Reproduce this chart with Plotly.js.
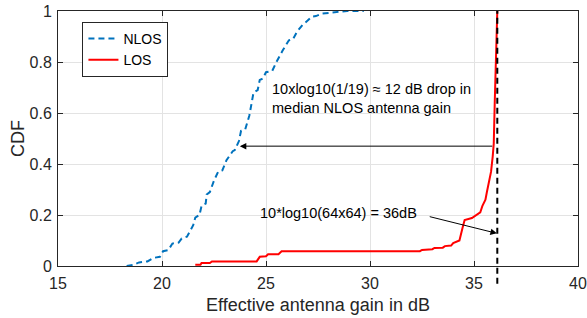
<!DOCTYPE html>
<html>
<head>
<meta charset="utf-8">
<script src="https://cdn.plot.ly/plotly-3.0.1.min.js"></script>
<style>html,body{margin:0;padding:0;background:#fff}#chart{width:587px;height:318px}</style>
</head>
<body>
<div id="chart"></div>
<script>
// NLOS empirical CDF of effective antenna gain (dB)
const nlosGain = [18.3, 18.6, 18.9, 19.3, 19.6, 19.9, 20.05, 20.3, 20.5, 20.8, 20.95, 21.2, 21.5, 21.6, 21.8, 21.9, 22.1, 22.15, 22.3, 22.5, 22.7, 22.9, 23.1, 23.4, 23.5, 23.7, 23.8, 24.0, 24.2, 24.3, 24.4, 24.6, 24.7, 24.85, 25.0, 25.3, 25.5, 25.8, 26.1, 26.3, 26.5, 26.8, 26.9, 27.2, 27.4, 27.7, 28.0, 28.5, 28.9, 29.7];
const nlosCdf  = [0.0, 0.004, 0.014, 0.018, 0.032, 0.036, 0.058, 0.062, 0.088, 0.092, 0.108, 0.115, 0.16, 0.19, 0.2, 0.235, 0.245, 0.28, 0.29, 0.335, 0.37, 0.375, 0.415, 0.45, 0.455, 0.49, 0.53, 0.535, 0.59, 0.64, 0.68, 0.69, 0.73, 0.735, 0.76, 0.765, 0.80, 0.845, 0.885, 0.89, 0.92, 0.95, 0.955, 0.978, 0.98, 0.99, 0.992, 0.996, 1.0, 1.0];
// LOS empirical CDF
const losGain = [21.6, 21.85, 21.9, 22.3, 22.4, 24.55, 24.7, 25.0, 25.1, 25.6, 25.75, 32.4, 32.5, 33.0, 33.1, 33.5, 33.6, 33.9, 34.0, 34.3, 34.45, 34.55, 34.9, 35.15, 35.3, 35.4, 35.55, 35.62, 35.72, 35.82, 35.9, 35.95, 36.0, 36.05, 36.08, 36.12];
const losCdf  = [0.005, 0.005, 0.012, 0.012, 0.018, 0.018, 0.036, 0.038, 0.046, 0.046, 0.058, 0.058, 0.063, 0.066, 0.071, 0.072, 0.078, 0.08, 0.09, 0.1, 0.15, 0.18, 0.188, 0.2, 0.21, 0.235, 0.26, 0.29, 0.33, 0.37, 0.43, 0.48, 0.65, 0.8, 0.91, 1.0];
// Full-array gain reference 10*log10(64x64)
const fullArrayGainDb = 36.12;
const xTicks = [15, 20, 25, 30, 35, 40];
const yTicks = [0, 0.2, 0.4, 0.6, 0.8, 1];
const yTickLabels = ['0', '0.2', '0.4', '0.6', '0.8', '1'];
// annotation anchor points (data units)
const medianArrow = {head: [23.74, 0.47], tail: [35.95, 0.47]};
const peakArrow = {head: [36.1, 0.128], tail: [32.8, 0.195]};
const medianText = {x: 25.18, y: 0.658, text: '10xlog10(1/19) \u2248 12 dB drop in<br>median NLOS antenna gain'};
const peakText = {x: 24.6, y: 0.207, text: '10*log10(64x64) = 36dB'};

const font = 'Liberation Sans, Arial, Helvetica, sans-serif';
const axColor = '#262626';

const traces = [
  {x: nlosGain, y: nlosCdf, type: 'scatter', mode: 'lines', name: 'NLOS',
   line: {color: '#0072BD', width: 2, dash: '6px,4px'}},
  {x: losGain, y: losCdf, type: 'scatter', mode: 'lines', name: 'LOS',
   line: {color: '#FF0000', width: 2}}
];

const arrowCommon = {xref: 'x', yref: 'y', axref: 'x', ayref: 'y', text: '', showarrow: true,
  arrowhead: 2, arrowsize: 1.3, arrowwidth: 1, arrowcolor: '#000', standoff: 0, startstandoff: 0};

const layout = {
  width: 587, height: 318,
  margin: {l: 58, r: 9, t: 11, b: 52},
  paper_bgcolor: '#fff', plot_bgcolor: '#fff',
  font: {family: font, size: 16, color: axColor},
  showlegend: true,
  legend: {x: 0.047, y: 0.957, xanchor: 'left', yanchor: 'top', bgcolor: '#fff',
    bordercolor: axColor, borderwidth: 1, font: {family: font, size: 14, color: '#000'},
    tracegroupgap: 0, itemwidth: 30},
  xaxis: {range: [15, 40], tickvals: xTicks, ticktext: xTicks.map(String),
    showgrid: true, gridcolor: '#e3e3e3', gridwidth: 1, zeroline: false,
    showline: true, linecolor: axColor, linewidth: 1, mirror: 'ticks',
    ticks: 'inside', ticklen: 5, tickcolor: axColor, tickfont: {size: 16, color: axColor},
    ticklabelstandoff: 3,
    title: {text: 'Effective antenna gain in dB', font: {size: 18, color: axColor}, standoff: 7}},
  yaxis: {range: [0, 1], tickvals: yTicks, ticktext: yTickLabels,
    showgrid: true, gridcolor: '#e3e3e3', gridwidth: 1, zeroline: false,
    showline: true, linecolor: axColor, linewidth: 1, mirror: 'ticks',
    ticks: 'inside', ticklen: 5, tickcolor: axColor, tickfont: {size: 16, color: axColor},
    ticklabelstandoff: 2,
    title: {text: 'CDF', font: {size: 18, color: axColor}, standoff: 0}},
  shapes: [
    {type: 'line', xref: 'x', yref: 'paper', x0: fullArrayGainDb, x1: fullArrayGainDb, y0: -0.07, y1: 1,
     line: {color: '#000', width: 2, dash: '6px,4px'}, layer: 'above'}
  ],
  annotations: [
    Object.assign({}, arrowCommon, {x: medianArrow.head[0], y: medianArrow.head[1], ax: medianArrow.tail[0], ay: medianArrow.tail[1]}),
    Object.assign({}, arrowCommon, {x: peakArrow.head[0], y: peakArrow.head[1], ax: peakArrow.tail[0], ay: peakArrow.tail[1]}),
    {xref: 'x', yref: 'y', x: medianText.x, y: medianText.y, text: medianText.text, showarrow: false,
     xanchor: 'left', yanchor: 'middle', align: 'left', font: {family: font, size: 14.5, color: '#000'}},
    {xref: 'x', yref: 'y', x: peakText.x, y: peakText.y, text: peakText.text, showarrow: false,
     xanchor: 'left', yanchor: 'middle', align: 'left', font: {family: font, size: 14.5, color: '#000'}}
  ]
};

Plotly.newPlot('chart', traces, layout, {staticPlot: true, displayModeBar: false});
</script>
</body>
</html>
